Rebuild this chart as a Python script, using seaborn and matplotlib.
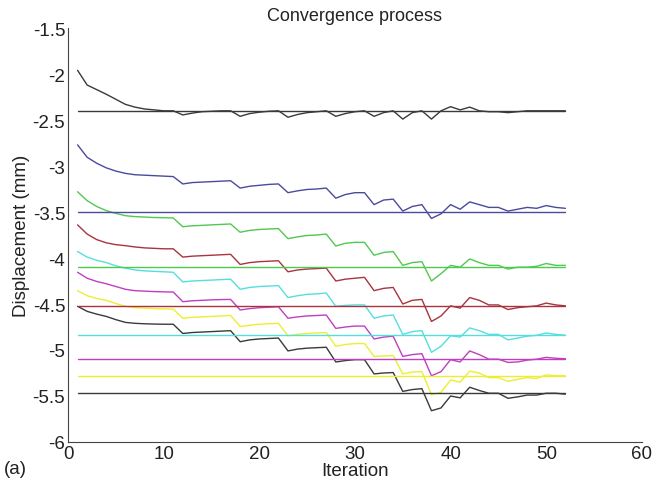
import numpy as np
import pandas as pd
import seaborn as sns
import matplotlib
matplotlib.use("Agg")
import matplotlib.pyplot as plt

iterations = list(range(1, 53))

# converged (reference) displacement of each node
reference = [-2.40, -3.50, -4.10, -4.52, -4.84, -5.10, -5.28, -5.47]
colors = ["#3a3a3a", "#4a4a9e", "#4fc94f", "#a8343f", "#55dede", "#c03ec0", "#eeee30", "#3a3a3a"]
names = ["n1", "n2", "n3", "n4", "n5", "n6", "n7", "n8"]

n1 = [-1.96, -2.12, -2.17, -2.22, -2.275, -2.33, -2.36, -2.38, -2.39, -2.40, -2.40,
      -2.445, -2.425, -2.41, -2.405, -2.40, -2.40, -2.46, -2.43, -2.415, -2.405, -2.40,
      -2.47, -2.44, -2.42, -2.41, -2.40, -2.46, -2.43, -2.41, -2.40, -2.46, -2.42, -2.40,
      -2.49, -2.42, -2.40, -2.49, -2.40, -2.355, -2.39, -2.36, -2.40, -2.41, -2.41, -2.42,
      -2.41, -2.40, -2.40, -2.40, -2.40, -2.40]
n2 = [-2.77, -2.905, -2.97, -3.02, -3.055, -3.08, -3.095, -3.10, -3.105, -3.11, -3.115,
      -3.195, -3.18, -3.175, -3.17, -3.165, -3.16, -3.24, -3.22, -3.21, -3.20, -3.195,
      -3.29, -3.27, -3.255, -3.25, -3.24, -3.35, -3.31, -3.29, -3.29, -3.42, -3.37, -3.36,
      -3.49, -3.44, -3.42, -3.57, -3.52, -3.42, -3.47, -3.39, -3.42, -3.45, -3.45, -3.49,
      -3.47, -3.45, -3.46, -3.43, -3.45, -3.46]
n3 = [-3.28, -3.377, -3.44, -3.485, -3.515, -3.54, -3.55, -3.555, -3.56, -3.562, -3.565,
      -3.66, -3.65, -3.645, -3.64, -3.635, -3.63, -3.72, -3.70, -3.69, -3.685, -3.68,
      -3.79, -3.77, -3.755, -3.75, -3.74, -3.87, -3.84, -3.83, -3.83, -3.97, -3.94, -3.93,
      -4.08, -4.05, -4.04, -4.25, -4.17, -4.08, -4.10, -4.01, -4.05, -4.08, -4.08, -4.12,
      -4.10, -4.10, -4.09, -4.06, -4.08, -4.08]
n4 = [-3.64, -3.74, -3.80, -3.835, -3.855, -3.866, -3.88, -3.89, -3.895, -3.90, -3.90,
      -3.99, -3.98, -3.975, -3.97, -3.965, -3.96, -4.07, -4.05, -4.04, -4.035, -4.03,
      -4.15, -4.13, -4.12, -4.115, -4.11, -4.25, -4.23, -4.22, -4.21, -4.355, -4.33, -4.32,
      -4.50, -4.46, -4.45, -4.69, -4.63, -4.52, -4.545, -4.43, -4.46, -4.51, -4.51, -4.56,
      -4.54, -4.53, -4.52, -4.49, -4.51, -4.52]
n5 = [-3.93, -3.99, -4.025, -4.05, -4.085, -4.11, -4.13, -4.14, -4.145, -4.15, -4.155,
      -4.26, -4.25, -4.245, -4.24, -4.235, -4.23, -4.34, -4.32, -4.31, -4.305, -4.30,
      -4.43, -4.41, -4.395, -4.39, -4.38, -4.525, -4.515, -4.51, -4.51, -4.655, -4.63, -4.62,
      -4.83, -4.80, -4.79, -5.025, -4.96, -4.845, -4.86, -4.76, -4.79, -4.83, -4.83, -4.89,
      -4.87, -4.85, -4.84, -4.815, -4.83, -4.84]
n6 = [-4.155, -4.22, -4.255, -4.28, -4.31, -4.34, -4.355, -4.36, -4.365, -4.368, -4.37,
      -4.475, -4.465, -4.46, -4.455, -4.452, -4.45, -4.565, -4.55, -4.54, -4.535, -4.53,
      -4.655, -4.64, -4.63, -4.625, -4.62, -4.765, -4.75, -4.74, -4.74, -4.88, -4.86, -4.85,
      -5.07, -5.05, -5.04, -5.28, -5.235, -5.105, -5.13, -5.01, -5.05, -5.10, -5.10, -5.135,
      -5.13, -5.11, -5.10, -5.08, -5.09, -5.095]
n7 = [-4.355, -4.41, -4.44, -4.46, -4.495, -4.525, -4.54, -4.545, -4.55, -4.553, -4.555,
      -4.655, -4.645, -4.64, -4.635, -4.63, -4.625, -4.745, -4.73, -4.72, -4.715, -4.71,
      -4.845, -4.83, -4.82, -4.815, -4.81, -4.96, -4.94, -4.93, -4.93, -5.07, -5.065, -5.06,
      -5.26, -5.24, -5.235, -5.485, -5.46, -5.326, -5.35, -5.23, -5.25, -5.30, -5.30, -5.34,
      -5.32, -5.30, -5.31, -5.27, -5.28, -5.28]
n8 = [-4.525, -4.58, -4.61, -4.635, -4.67, -4.70, -4.71, -4.715, -4.718, -4.72, -4.72,
      -4.82, -4.81, -4.805, -4.80, -4.795, -4.79, -4.91, -4.89, -4.88, -4.875, -4.87,
      -5.01, -4.99, -4.98, -4.975, -4.97, -5.13, -5.115, -5.105, -5.105, -5.26, -5.25, -5.245,
      -5.45, -5.43, -5.42, -5.66, -5.63, -5.50, -5.52, -5.405, -5.44, -5.47, -5.47, -5.525,
      -5.51, -5.49, -5.49, -5.47, -5.47, -5.48]

series = [n1, n2, n3, n4, n5, n6, n7, n8]

# long-form tables for seaborn
rows = []
for name, vals in zip(names, series):
    for it, v in zip(iterations, vals):
        rows.append((it, v, name))
df = pd.DataFrame(rows, columns=["iter", "disp", "node"])

ref_rows = []
for name, r in zip(names, reference):
    ref_rows.append((iterations[0], r, name))
    ref_rows.append((iterations[-1], r, name))
df_ref = pd.DataFrame(ref_rows, columns=["iter", "disp", "node"])

sns.set_theme(style="white")
plt.rcParams["font.family"] = ["Liberation Sans", "DejaVu Sans"]

fig = plt.figure(figsize=(6.63, 4.85), dpi=100)
ax = fig.add_axes([0.1026, 0.0866, 0.8655, 0.8536])

pal = dict(zip(names, colors))
sns.lineplot(data=df, x="iter", y="disp", hue="node", palette=pal, legend=False,
             linewidth=1.0, ax=ax)
sns.lineplot(data=df_ref, x="iter", y="disp", hue="node", palette=pal, legend=False,
             linewidth=1.0, ax=ax)

ax.set_xlim(0, 60)
ax.set_ylim(-6, -1.5)
ax.set_xticks([0, 10, 20, 30, 40, 50, 60])
ax.set_yticks(np.arange(-6, -1.49, 0.5))
ax.set_yticklabels(["-6", "-5.5", "-5", "-4.5", "-4", "-3.5", "-3", "-2.5", "-2", "-1.5"])
ax.tick_params(direction="in", length=5, width=0.8, colors="#222222", labelsize=13.5, pad=2)
sns.despine(ax=ax)
for s in ["left", "bottom"]:
    ax.spines[s].set_color("#444444")
    ax.spines[s].set_linewidth(0.8)

ax.set_title("Convergence process", fontsize=13, color="#222222", pad=6)
ax.set_xlabel("Iteration", fontsize=13.5, color="#222222", labelpad=0)
ax.set_ylabel("Displacement (mm)", fontsize=13.5, color="#222222", labelpad=2)
fig.text(0.006, 0.022, "(a)", fontsize=13.5, color="#222222")

plt.savefig("out.png", dpi=100)
